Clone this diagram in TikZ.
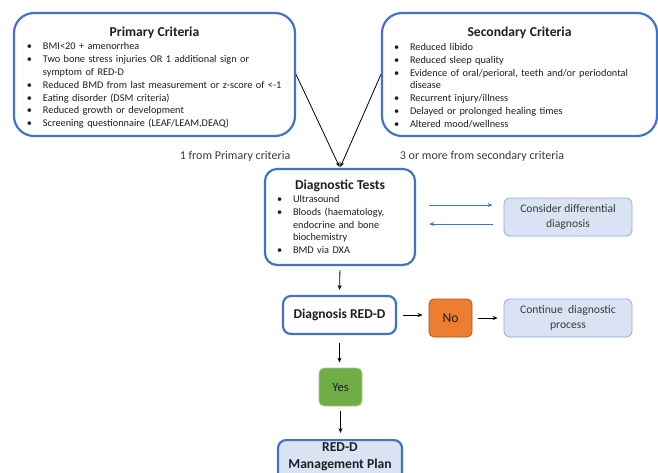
\documentclass[tikz,border=0pt]{standalone}
\usepackage{fontspec}
\setmainfont{Carlito}
\usetikzlibrary{arrows.meta}
\definecolor{bblue}{HTML}{4472C4}
\definecolor{lblue}{HTML}{DAE3F3}
\definecolor{lborder}{HTML}{8FAADC}
\definecolor{orng}{HTML}{ED7D31}
\definecolor{orngd}{HTML}{A85A25}
\definecolor{grn}{HTML}{70AD47}
\definecolor{grnl}{HTML}{A9D18E}
\definecolor{txt}{HTML}{1E1E1E}
\definecolor{txtg}{HTML}{3A3A3A}
\newcommand{\bitem}[1]{\par\hangindent=16pt\hangafter=1\noindent\makebox[16pt][l]{\textbullet}#1}
\newcommand{\btitle}[2]{{\centering\fontsize{13.6}{15}\selectfont\bfseries #2\par}\vspace{#1}}
\tikzset{
  bigbox/.style={draw=bblue, line width=2.2pt, fill=white, align=left, inner ysep=2pt, text=txt,
    font=\fontsize{10.3}{12.8}\selectfont},
  lbox/.style={draw=lborder, line width=0.8pt, fill=lblue, rounded corners=6pt, align=center, text=txtg,
    font=\fontsize{11.6}{14.5}\selectfont, minimum height=38pt},
  lbl/.style={text=txtg, font=\fontsize{12}{14}\selectfont},
  arr/.style={-{Stealth[length=5pt,width=4pt]}, line width=0.8pt, draw=black},
  barr/.style={-{Stealth[length=5pt,width=4pt]}, line width=1pt, draw=bblue},
}
\begin{document}
\begin{tikzpicture}[x=1pt,y=-1pt]
\useasboundingbox (0,0) rectangle (658,472);
\clip (0,0) rectangle (658,472);
\fill[white] (0,0) rectangle (658,472);

\node[bigbox, rounded corners=20pt, text width=255pt, inner xsep=13pt, minimum height=123pt] (prim) at (154.5,74.5) {%
\btitle{1pt}{Primary Criteria}%
\bitem{BMI<20 + amenorrhea}%
\bitem{Two bone stress injuries OR 1 additional sign or\break symptom of RED-D}%
\bitem{Reduced BMD from last measurement or z-score of <-1}%
\bitem{Eating disorder (DSM criteria)}%
\bitem{Reduced growth or development}%
\bitem{Screening questionnaire (LEAF/LEAM,DEAQ)}\par\vspace{-6pt}};

\node[bigbox, rounded corners=20pt, text width=251pt, inner xsep=12pt, minimum height=123pt] (sec) at (519.5,74.5) {%
\btitle{1pt}{Secondary Criteria}%
\bitem{Reduced libido}%
\bitem{Reduced sleep quality}%
\bitem{Evidence of oral/perioral, teeth and/or periodontal\break disease}%
\bitem{Recurrent injury/illness}%
\bitem{Delayed or prolonged healing times}%
\bitem{Altered mood/wellness}\par\vspace{-6pt}};

\node[lbl] (l1) at (235,156) {1 from Primary criteria};
\node[lbl] (l2) at (482,156) {3 or more from secondary criteria};

\node[bigbox, rounded corners=12pt, text width=126pt, inner xsep=12pt, minimum height=96pt] (diag) at (340,217) {%
\btitle{0pt}{Diagnostic Tests}%
\bitem{Ultrasound}%
\bitem{Bloods (haematology,\break endocrine and bone\break biochemistry}%
\bitem{BMD via DXA}};

\node[lbox, minimum width=128pt] (cdd) at (568,217) {Consider differential\\diagnosis};

\node[draw=bblue, line width=2.2pt, fill=white, rounded corners=8pt, minimum width=113pt, minimum height=38pt,
  text=txt, font=\fontsize{13.5}{15}\selectfont\bfseries] (dx) at (339.5,315) {Diagnosis RED-D};

\node[draw=orngd, line width=0.8pt, fill=orng, rounded corners=5pt, minimum width=43pt, minimum height=38pt,
  text=txt, font=\fontsize{13.6}{15}\selectfont] (no) at (450.5,318) {No};

\node[lbox, minimum width=128pt] (cont) at (568,318) {Continue~~diagnostic\\process};

\node[draw=grnl, line width=0.8pt, fill=grn, rounded corners=5pt, minimum width=43pt, minimum height=38pt,
  text=txt, font=\fontsize{12.6}{15}\selectfont] (yes) at (340.5,387) {Yes};

\node[draw=bblue, line width=2.2pt, fill=lblue, rounded corners=8pt, minimum width=124pt, anchor=north,
  inner ysep=3pt, align=center, text=txt, font=\fontsize{13.6}{17}\selectfont\bfseries] (plan) at (340,439)
  {RED-D\\Management Plan\\[6pt]};

\draw[arr, shorten >=1pt] (prim.east) -- (diag.north);
\draw[arr, shorten >=1pt] (sec.west) -- (diag.north);
\draw[barr] ([xshift=13pt,yshift=12pt]diag.east) -- ([xshift=-11pt,yshift=12pt]cdd.west);
\draw[barr] ([xshift=-11pt,yshift=-7pt]cdd.west) -- ([xshift=13pt,yshift=-7pt]diag.east);
\draw[arr, shorten <=4pt, shorten >=5pt] (diag.south) -- (dx.north);
\draw[arr, shorten <=6pt, shorten >=6pt] (dx.east) -- (dx.east -| no.west);
\draw[arr, shorten <=6pt, shorten >=6pt] (no.east) -- (cont.west);
\draw[arr, shorten <=8pt, shorten >=5pt] (dx.south) -- (dx.south |- yes.north);
\draw[arr, shorten <=5pt, shorten >=6pt] (yes.south) -- (yes.south |- plan.north);
\end{tikzpicture}
\end{document}
